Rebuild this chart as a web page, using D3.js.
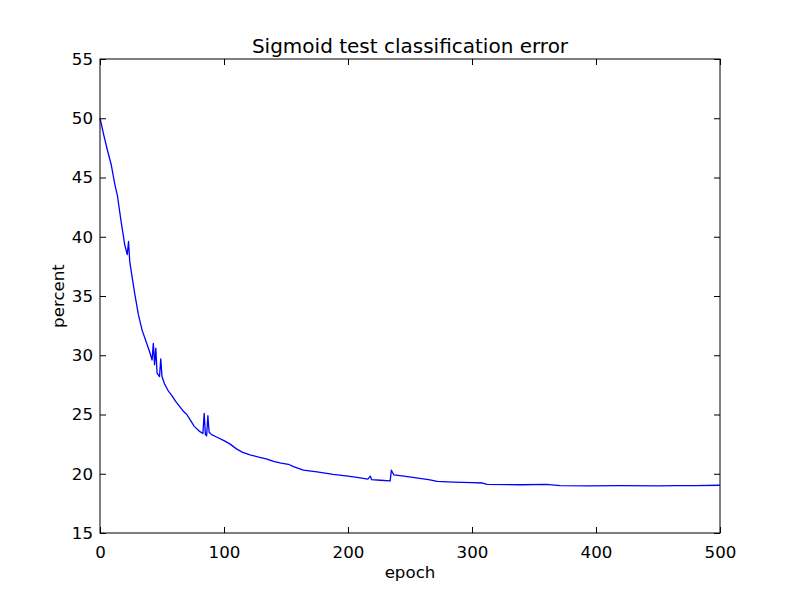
<!DOCTYPE html>
<html lang="en">
<head>
    <meta charset="UTF-8">
    <title>Sigmoid test classification error</title>
    <style>
        body {
            margin: 0;
            padding: 0;
            background: #fff;
        }
        svg {
            display: block;
            font-family: "DejaVu Sans", sans-serif;
        }
    </style>
</head>
<body>
    <div id="chart"></div>

    <script src="https://d3js.org/d3.v7.min.js"></script>
    <script>
        // values
        const epochs = [0, 3, 6, 8, 9, 12, 14, 17, 20, 22, 23, 24, 25, 28, 31, 34, 37, 40, 42, 43, 44, 45, 46, 48, 49, 50,
            52, 55, 58, 61, 64, 67, 70, 73, 76, 80, 83, 84, 85, 86, 87, 88, 90, 94, 100, 105, 110, 115, 121, 128,
            134, 140, 146, 152, 156, 164, 175, 188, 200, 210, 216, 218, 219, 226, 234, 235, 237, 245, 255, 265,
            272, 285, 300, 308, 312, 340, 360, 371, 395, 420, 450, 465, 480, 500];
        const errors = [50.0, 48.6, 47.3, 46.5, 46.1, 44.4, 43.5, 41.3, 39.3, 38.5, 39.6, 37.9, 37.2, 35.2, 33.4, 32.1, 31.2, 30.3, 29.6, 31.0, 29.2, 30.6, 28.5, 28.2, 29.7, 28.2,
            27.6, 27.0, 26.6, 26.1, 25.7, 25.3, 25.0, 24.5, 24.0, 23.6, 23.4, 25.1, 23.3, 23.2, 24.9, 23.5, 23.3, 23.1, 22.8, 22.5, 22.1, 21.8, 21.6, 21.4,
            21.25, 21.05, 20.9, 20.8, 20.6, 20.3, 20.15, 19.95, 19.8, 19.65, 19.55, 19.8, 19.5, 19.45, 19.4, 20.3, 19.9, 19.8, 19.65, 19.5,
            19.35, 19.3, 19.25, 19.22, 19.1, 19.07, 19.1, 19.0, 18.98, 19.0, 18.97, 19.0, 18.99, 19.03];
        const xTicks = [0, 100, 200, 300, 400, 500];
        const yTicks = [15, 20, 25, 30, 35, 40, 45, 50, 55];

        const W = 800, H = 592;
        const margin = { top: 59, right: 80, bottom: 59, left: 100 };
        const width = W - margin.left - margin.right;
        const height = H - margin.top - margin.bottom;
        const fs = 16.67;

        const svg = d3.select("#chart").append("svg")
            .attr("width", W)
            .attr("height", H);

        const g = svg.append("g")
            .attr("transform", `translate(${margin.left},${margin.top})`);

        const x = d3.scaleLinear().domain([0, 500]).range([0, width]);
        const y = d3.scaleLinear().domain([15, 55]).range([height, 0]);

        const data = epochs.map((e, i) => ({ e, v: errors[i] }));

        // curve
        g.append("path")
            .datum(data)
            .attr("fill", "none")
            .attr("stroke", "#0000ff")
            .attr("stroke-width", 1.3)
            .attr("stroke-linejoin", "round")
            .attr("d", d3.line().x(d => x(d.e)).y(d => y(d.v)));

        // axes, classic style: ticks inside on all four sides
        const tk = 6;
        g.append("g")
            .attr("transform", `translate(0,${height})`)
            .call(d3.axisBottom(x).tickValues(xTicks).tickSize(-tk).tickPadding(tk + 7))
            .call(a => a.select(".domain").remove());
        g.append("g")
            .call(d3.axisTop(x).tickValues(xTicks).tickSize(-tk).tickFormat(""))
            .call(a => a.select(".domain").remove());
        g.append("g")
            .call(d3.axisLeft(y).tickValues(yTicks).tickSize(-tk).tickPadding(tk + 1))
            .call(a => a.select(".domain").remove());
        g.append("g")
            .attr("transform", `translate(${width},0)`)
            .call(d3.axisRight(y).tickValues(yTicks).tickSize(-tk).tickFormat(""))
            .call(a => a.select(".domain").remove());

        g.selectAll(".tick line").attr("stroke", "#000");
        g.selectAll(".tick text")
            .attr("fill", "#000")
            .style("font-size", fs + "px")
            .style("font-family", "DejaVu Sans, sans-serif");

        g.append("rect")
            .attr("width", width)
            .attr("height", height)
            .attr("fill", "none")
            .attr("stroke", "#000")
            .attr("stroke-width", 1);

        // title and labels
        svg.append("text")
            .attr("x", margin.left + width / 2)
            .attr("y", 53)
            .attr("text-anchor", "middle")
            .style("font-size", "20px")
            .text("Sigmoid test classification error");

        svg.append("text")
            .attr("x", margin.left + width / 2)
            .attr("y", 578)
            .attr("text-anchor", "middle")
            .style("font-size", fs + "px")
            .text("epoch");

        svg.append("text")
            .attr("transform", `translate(64,${margin.top + height / 2}) rotate(-90)`)
            .attr("text-anchor", "middle")
            .style("font-size", fs + "px")
            .text("percent");
    </script>
</body>
</html>
